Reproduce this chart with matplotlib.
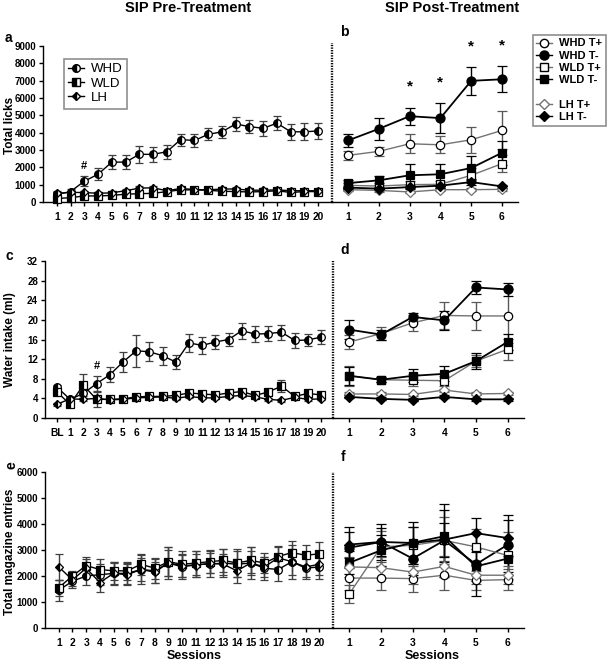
import matplotlib
matplotlib.use('Agg')
import matplotlib.pyplot as plt
from matplotlib.lines import Line2D

plt.rcParams['font.family'] = ['Liberation Sans', 'DejaVu Sans']
plt.rcParams['font.weight'] = 'bold'

# ---------------- data ----------------
pre_sessions = list(range(1, 21))
pre_tick_labels = [str(i) for i in pre_sessions]
water_positions = list(range(0, 21))
water_tick_labels = ['BL'] + pre_tick_labels
post_sessions = [1, 2, 3, 4, 5, 6]
post_tick_labels = ['1', '2', '3', '4', '5', '6']

pre_groups = ['WHD', 'WLD', 'LH']
post_groups = ['WHD T+', 'WHD T-', 'WLD T+', 'WLD T-', 'LH T+', 'LH T-']

# Total licks, pre-treatment
licks_whd = [440, 600, 1200, 1600, 2300, 2300, 2750, 2750, 2900, 3600, 3550, 3900, 4050, 4500, 4350, 4250, 4550, 4050, 4050, 4100]
licks_whd_err = [150, 150, 300, 350, 420, 420, 480, 420, 400, 350, 400, 350, 350, 400, 380, 420, 400, 450, 500, 450]
licks_wld = [200, 250, 350, 350, 380, 450, 480, 500, 600, 700, 700, 680, 620, 600, 580, 600, 650, 550, 600, 600]
licks_wld_err = [100, 100, 120, 120, 120, 130, 150, 150, 130, 130, 120, 120, 150, 150, 140, 130, 130, 130, 120, 120]
licks_lh = [500, 550, 550, 500, 530, 650, 800, 820, 650, 780, 720, 700, 750, 750, 680, 680, 700, 650, 650, 650]
licks_lh_err = [120, 110, 110, 100, 100, 110, 120, 120, 100, 110, 100, 100, 100, 110, 100, 100, 100, 100, 100, 100]

# Total licks, post-treatment
licks_whd_tp = [2690, 2920, 3360, 3300, 3590, 4130]
licks_whd_tp_err = [250, 250, 550, 500, 750, 1100]
licks_whd_tm = [3550, 4220, 4950, 4840, 6990, 7080]
licks_whd_tm_err = [400, 650, 500, 850, 800, 750]
licks_wld_tp = [960, 920, 1000, 1020, 1540, 2210]
licks_wld_tp_err = [150, 150, 200, 200, 400, 500]
licks_wld_tm = [1090, 1250, 1540, 1600, 1960, 2840]
licks_wld_tm_err = [200, 250, 650, 600, 700, 700]
licks_lh_tp = [710, 670, 580, 710, 710, 730]
licks_lh_tp_err = [80, 80, 80, 80, 80, 80]
licks_lh_tm = [830, 770, 860, 940, 1150, 900]
licks_lh_tm_err = [100, 100, 100, 120, 150, 100]

# Water intake, pre-treatment (BL + 20 sessions)
water_whd = [6.3, 3.8, 5.0, 7.0, 8.8, 11.4, 13.7, 13.5, 12.7, 11.4, 15.3, 14.8, 15.5, 16.0, 17.8, 17.1, 17.2, 17.5, 15.8, 15.9, 16.5]
water_whd_err = [0.5, 0.4, 1.0, 1.5, 1.5, 2.0, 3.3, 1.9, 1.8, 1.5, 1.8, 1.8, 1.5, 1.4, 1.6, 1.7, 1.5, 1.5, 1.5, 1.2, 1.5]
water_wld = [5.3, 2.8, 6.7, 3.8, 3.8, 3.9, 4.3, 4.4, 4.4, 4.6, 5.1, 4.9, 4.7, 5.1, 5.4, 4.6, 5.3, 6.5, 4.4, 5.0, 4.7]
water_wld_err = [0.5, 0.4, 2.3, 1.5, 0.4, 0.4, 0.4, 0.4, 0.4, 0.4, 0.5, 0.5, 0.5, 0.5, 0.5, 0.4, 0.5, 1.3, 0.4, 0.5, 0.5]
water_lh = [2.8, 3.9, 3.8, 4.0, 3.7, 3.8, 4.1, 4.2, 4.3, 4.0, 4.4, 4.1, 4.1, 4.4, 4.6, 4.3, 3.8, 3.6, 4.2, 3.8, 3.9]
water_lh_err = [0.3, 0.3, 0.3, 0.3, 0.3, 0.3, 0.3, 0.3, 0.3, 0.3, 0.3, 0.3, 0.3, 0.3, 0.3, 0.3, 0.3, 0.3, 0.3, 0.3, 0.3]

# Water intake, post-treatment
water_whd_tp = [15.5, 17.2, 19.4, 20.9, 20.8, 20.8]
water_whd_tp_err = [1.4, 1.3, 1.6, 2.8, 2.8, 5.5]
water_whd_tm = [18.0, 17.0, 20.6, 19.9, 26.6, 26.2]
water_whd_tm_err = [1.9, 1.0, 0.8, 2.0, 1.4, 1.4]
water_wld_tp = [8.6, 7.8, 7.7, 7.6, 11.6, 14.0]
water_wld_tp_err = [2.0, 0.5, 1.2, 1.0, 1.2, 2.2]
water_wld_tm = [8.6, 7.8, 8.6, 9.0, 11.6, 15.5]
water_wld_tm_err = [1.8, 0.5, 1.3, 1.5, 1.7, 1.7]
water_lh_tp = [4.9, 4.9, 4.8, 5.7, 4.9, 5.0]
water_lh_tp_err = [0.3, 0.3, 0.3, 0.3, 0.3, 0.3]
water_lh_tm = [4.3, 3.9, 3.7, 4.3, 3.8, 3.8]
water_lh_tm_err = [0.3, 0.3, 0.3, 0.3, 0.3, 0.3]

# Total magazine entries, pre-treatment
mag_whd = [1450, 1800, 2000, 2050, 2100, 2100, 2250, 2200, 2500, 2350, 2450, 2450, 2500, 2450, 2500, 2300, 2250, 2550, 2300, 2350]
mag_whd_err = [400, 250, 350, 400, 450, 400, 550, 450, 600, 450, 500, 500, 550, 500, 600, 450, 450, 650, 400, 450]
mag_wld = [1550, 2000, 2400, 2250, 2200, 2200, 2450, 2300, 2550, 2450, 2500, 2550, 2600, 2500, 2600, 2500, 2750, 2900, 2800, 2850]
mag_wld_err = [300, 200, 350, 400, 350, 350, 400, 400, 550, 500, 450, 450, 450, 550, 500, 400, 400, 450, 400, 450]
mag_lh = [2350, 1850, 2300, 1750, 2100, 2050, 2250, 2150, 2500, 2400, 2400, 2500, 2450, 2200, 2500, 2350, 2700, 2550, 2350, 2450]
mag_lh_err = [500, 250, 350, 350, 400, 400, 450, 400, 500, 450, 450, 400, 400, 450, 450, 400, 400, 500, 400, 400]

# Total magazine entries, post-treatment
mag_whd_tp = [1920, 1920, 1900, 2030, 1830, 1860]
mag_whd_tp_err = [450, 450, 500, 550, 350, 400]
mag_whd_tm = [3090, 3310, 2670, 3370, 2450, 3200]
mag_whd_tm_err = [800, 700, 650, 1400, 1200, 1150]
mag_wld_tp = [1320, 3120, 3180, 3370, 3120, 2790]
mag_wld_tp_err = [350, 600, 700, 900, 700, 900]
mag_wld_tm = [2510, 2990, 3280, 3530, 2370, 2670]
mag_wld_tm_err = [450, 600, 800, 1000, 550, 500]
mag_lh_tp = [2350, 2320, 2150, 2370, 2030, 2030]
mag_lh_tp_err = [400, 400, 450, 400, 350, 350]
mag_lh_tm = [3210, 3310, 3270, 3400, 3650, 3460]
mag_lh_tm_err = [500, 550, 600, 650, 600, 700]

# significance marks
hash_session_licks = 3
hash_session_water = 3
star_sessions_licks = [3, 4, 5, 6]

# ---------------- style ----------------
PRE_MARKERS = ['o', 's', 'D']
PRE_SIZES = [5.5, 5.5, 4.5]
POST_STYLES = [
    dict(marker='o', mfc='white', mec='black', color='0.45', ms=6.0),
    dict(marker='o', mfc='black', mec='black', color='black', ms=6.5),
    dict(marker='s', mfc='white', mec='black', color='0.45', ms=6.0),
    dict(marker='s', mfc='black', mec='black', color='black', ms=6.0),
    dict(marker='D', mfc='white', mec='0.45', color='0.45', ms=5.0),
    dict(marker='D', mfc='black', mec='black', color='black', ms=5.0),
]
XTICK_FS = 7.4
YTICK_FS = 7.0

W, H = 610, 662
fig = plt.figure(figsize=(W / 100, H / 100), dpi=100)


def box(x0, y0, x1, y1):
    return [x0 / W, 1 - y1 / H, (x1 - x0) / W, (y1 - y0) / H]


def style_left(ax, xlim, ylim, yticks, xticks, xlabels):
    ax.set_xlim(*xlim)
    ax.set_ylim(*ylim)
    ax.set_yticks(yticks)
    ax.set_xticks(xticks)
    ax.set_xticklabels(xlabels)
    ax.spines['top'].set_visible(False)
    ax.spines['right'].set_visible(False)
    for s in ['left', 'bottom']:
        ax.spines[s].set_linewidth(1.0)
    ax.tick_params(axis='both', direction='out', length=3, width=1, pad=2)
    ax.tick_params(axis='x', pad=4, labelsize=XTICK_FS)
    ax.tick_params(axis='y', labelsize=YTICK_FS)
    for lab in ax.get_xticklabels() + ax.get_yticklabels():
        lab.set_fontweight('bold')


def style_right(ax, xlim, ylim, dot_top=1.0):
    ax.set_xlim(*xlim)
    ax.set_ylim(*ylim)
    ax.set_xticks(post_sessions)
    ax.set_xticklabels(post_tick_labels)
    ax.spines['top'].set_visible(False)
    ax.spines['right'].set_visible(False)
    ax.spines['left'].set_visible(False)
    ax.spines['bottom'].set_linewidth(1.0)
    ax.plot([0, 0], [0, dot_top], transform=ax.transAxes, color='black', lw=1.7,
            dashes=(0.55, 0.55), clip_on=False, zorder=1)
    ax.tick_params(axis='y', left=False, labelleft=False)
    ax.tick_params(axis='x', direction='out', length=3, width=1, labelsize=XTICK_FS, pad=4)
    for lab in ax.get_xticklabels():
        lab.set_fontweight('bold')


def draw_pre(ax, x, series):
    for (y, e), m, ms in zip(series, PRE_MARKERS, PRE_SIZES):
        ax.errorbar(x, y, yerr=e, marker=m, markersize=ms, color='black', lw=1.0,
                    ecolor='0.25', elinewidth=1.0, capsize=3, capthick=1.0,
                    fillstyle='left', markerfacecolor='black', markerfacecoloralt='white',
                    markeredgecolor='black', markeredgewidth=0.9, clip_on=False, zorder=3)


def draw_post(ax, x, series):
    for (y, e), st in zip(series, POST_STYLES):
        ax.errorbar(x, y, yerr=e, marker=st['marker'], markersize=st['ms'], color=st['color'],
                    lw=1.0 if st['color'] != 'black' else 1.3,
                    ecolor='black' if st['color'] == 'black' else '0.35', elinewidth=1.0,
                    capsize=3.5, capthick=1.0, markerfacecolor=st['mfc'],
                    markeredgecolor=st['mec'], markeredgewidth=0.9, clip_on=False, zorder=3)


# ---------- row a / b : licks ----------
ax_a = fig.add_axes(box(43, 46, 332, 202))
style_left(ax_a, (0, 21), (0, 9000), range(0, 9001, 1000), pre_sessions, pre_tick_labels)
draw_pre(ax_a, pre_sessions, [(licks_whd, licks_whd_err), (licks_wld, licks_wld_err), (licks_lh, licks_lh_err)])
i = pre_sessions.index(hash_session_licks)
ax_a.text(hash_session_licks, licks_whd[i] + licks_whd_err[i] + 600, '#', ha='center', va='center', fontsize=8, fontweight='bold')

ax_b = fig.add_axes(box(332, 46, 518, 202))
style_right(ax_b, (0.48, 6.52), (0, 9000), dot_top=1.02)
draw_post(ax_b, post_sessions, [(licks_whd_tp, licks_whd_tp_err), (licks_whd_tm, licks_whd_tm_err),
                                (licks_wld_tp, licks_wld_tp_err), (licks_wld_tm, licks_wld_tm_err),
                                (licks_lh_tp, licks_lh_tp_err), (licks_lh_tm, licks_lh_tm_err)])
for s in star_sessions_licks:
    j = post_sessions.index(s)
    ax_b.text(s, licks_whd_tm[j] + licks_whd_tm_err[j] + 1200, '*', ha='center', va='center',
              fontsize=11, fontweight='bold', clip_on=False)

# ---------- row c / d : water ----------
ax_c = fig.add_axes(box(45, 261, 333, 418))
style_left(ax_c, (-0.9, 20.9), (0, 32), range(0, 33, 4), water_positions, water_tick_labels)
draw_pre(ax_c, water_positions, [(water_whd, water_whd_err), (water_wld, water_wld_err), (water_lh, water_lh_err)])
i = water_positions.index(hash_session_water)
ax_c.text(hash_session_water, water_whd[i] + water_whd_err[i] + 2.2, '#', ha='center', va='center', fontsize=8, fontweight='bold')

ax_d = fig.add_axes(box(333, 261, 524, 418))
style_right(ax_d, (0.48, 6.52), (0, 32))
draw_post(ax_d, post_sessions, [(water_whd_tp, water_whd_tp_err), (water_whd_tm, water_whd_tm_err),
                                (water_wld_tp, water_wld_tp_err), (water_wld_tm, water_wld_tm_err),
                                (water_lh_tp, water_lh_tp_err), (water_lh_tm, water_lh_tm_err)])

# ---------- row e / f : magazine ----------
ax_e = fig.add_axes(box(45, 472, 333, 628))
style_left(ax_e, (0, 21), (0, 6000), range(0, 6001, 1000), pre_sessions, pre_tick_labels)
draw_pre(ax_e, pre_sessions, [(mag_whd, mag_whd_err), (mag_wld, mag_wld_err), (mag_lh, mag_lh_err)])

ax_f = fig.add_axes(box(333, 472, 524, 628))
style_right(ax_f, (0.48, 6.52), (0, 6000))
draw_post(ax_f, post_sessions, [(mag_whd_tp, mag_whd_tp_err), (mag_whd_tm, mag_whd_tm_err),
                                (mag_wld_tp, mag_wld_tp_err), (mag_wld_tm, mag_wld_tm_err),
                                (mag_lh_tp, mag_lh_tp_err), (mag_lh_tm, mag_lh_tm_err)])

# ---------- legends ----------
pre_handles = [Line2D([], [], marker=m, markersize=ms, color='black', lw=1.0, fillstyle='left',
                      markerfacecolor='black', markerfacecoloralt='white', markeredgecolor='black')
               for m, ms in zip(PRE_MARKERS, PRE_SIZES)]
leg_a = ax_a.legend(pre_handles, pre_groups, loc='upper left', bbox_to_anchor=(14 / 289, 1 - 6 / 156),
                    frameon=True, fancybox=False, handlelength=1.2, handletextpad=0.5,
                    labelspacing=0.15, borderpad=0.35, prop={'weight': 'normal', 'size': 9.5})
leg_a.get_frame().set_edgecolor('0.45')
leg_a.get_frame().set_linewidth(1.2)

post_handles = [Line2D([], [], marker=st['marker'], markersize=st['ms'], color=st['color'], lw=1.0,
                       markerfacecolor=st['mfc'], markeredgecolor=st['mec']) for st in POST_STYLES]
blank = Line2D([], [], lw=0, marker=None)
handles_b = post_handles[:4] + [blank] + post_handles[4:]
labels_b = post_groups[:4] + [''] + post_groups[4:]
leg_b = fig.legend(handles_b, labels_b, loc='upper left', bbox_to_anchor=(527 / W, 1 - 29 / H),
                   frameon=True, fancybox=False, handlelength=1.4, handletextpad=0.6,
                   labelspacing=0.2, borderpad=0.35, prop={'weight': 'bold', 'size': 8})
leg_b.get_frame().set_edgecolor('0.45')
leg_b.get_frame().set_linewidth(1.2)

# ---------- texts ----------
fig.text(188 / W, 1 - 8 / H, 'SIP Pre-Treatment', ha='center', va='center', fontsize=10.5, fontweight='bold')
fig.text(452 / W, 1 - 8 / H, 'SIP Post-Treatment', ha='center', va='center', fontsize=10.5, fontweight='bold')

fig.text(8 / W, 1 - 38 / H, 'a', ha='center', va='center', fontsize=10, fontweight='bold')
fig.text(344 / W, 1 - 32 / H, 'b', ha='center', va='center', fontsize=10, fontweight='bold')
fig.text(9 / W, 1 - 256 / H, 'c', ha='center', va='center', fontsize=10, fontweight='bold')
fig.text(345 / W, 1 - 250 / H, 'd', ha='center', va='center', fontsize=10, fontweight='bold')
fig.text(11 / W, 1 - 465 / H, 'e', ha='center', va='center', fontsize=10, fontweight='bold', rotation=90)
fig.text(343 / W, 1 - 457 / H, 'f', ha='center', va='center', fontsize=10, fontweight='bold')

fig.text(10 / W, 1 - 125 / H, 'Total licks', ha='center', va='center', rotation=90, fontsize=8.5, fontweight='bold')
fig.text(10 / W, 1 - 340 / H, 'Water intake (ml)', ha='center', va='center', rotation=90, fontsize=8.5, fontweight='bold')
fig.text(10 / W, 1 - 552 / H, 'Total magazine entries', ha='center', va='center', rotation=90, fontsize=8.5, fontweight='bold')

fig.text(194 / W, 1 - 656 / H, 'Sessions', ha='center', va='center', fontsize=9, fontweight='bold')
fig.text(432 / W, 1 - 656 / H, 'Sessions', ha='center', va='center', fontsize=9, fontweight='bold')

fig.savefig('out.png', dpi=100)
